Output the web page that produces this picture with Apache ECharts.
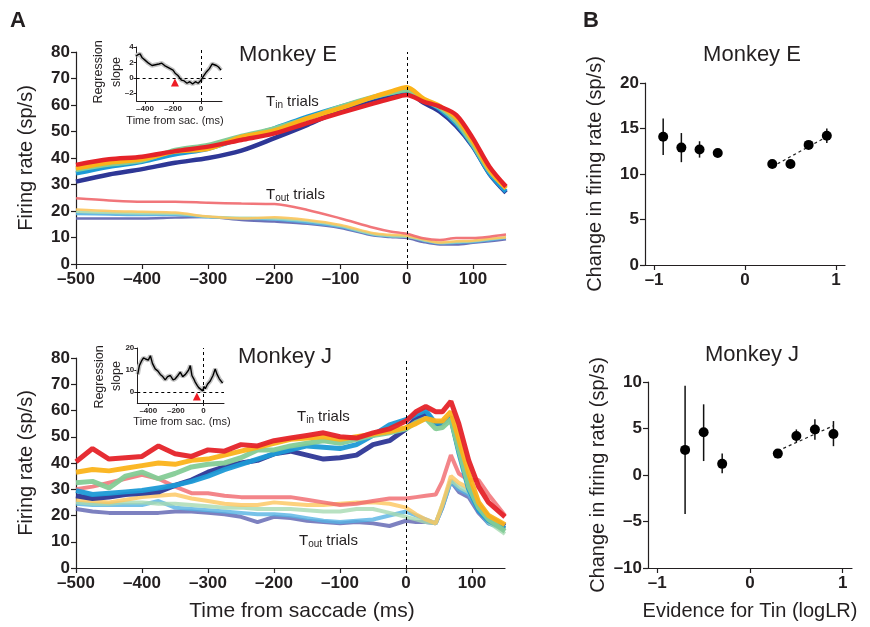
<!DOCTYPE html>
<html>
<head>
<meta charset="utf-8">
<script src="https://cdn.jsdelivr.net/npm/echarts@6/dist/echarts.min.js"></script>
<style>
  html, body { margin: 0; padding: 0; background: #fff; }
  #fig { width: 870px; height: 627px; }
</style>
</head>
<body>
<div id="fig"></div>
<script>
// ---- Monkey E, firing rate vs time (ms) ----
var tE = [-500, -450, -400, -350, -300, -250, -200, -150, -100, -50, -25, 0, 25, 50, 75, 100, 125, 150];
var eTinDarkBlue  = [31.1, 33.8, 35.8, 38.2, 40.0, 42.8, 47.5, 52.5, 58.0, 62.1, 63.5, 65.0, 60.9, 57.5, 52.0, 44.3, 34.0, 26.9];
var eTinLightBlue = [34.2, 36.7, 38.6, 41.4, 43.5, 47.4, 51.2, 55.6, 59.4, 62.9, 64.5, 65.4, 62.0, 58.4, 52.8, 44.5, 34.2, 27.3];
var eTinGreen     = [35.5, 37.5, 39.0, 43.0, 44.9, 48.3, 51.2, 55.0, 59.4, 63.1, 64.5, 65.7, 62.0, 59.0, 53.7, 45.0, 35.0, 28.7];
var eTinYellow    = [36.1, 38.2, 39.5, 42.4, 43.5, 48.0, 50.4, 55.0, 58.8, 63.1, 65.0, 66.7, 62.5, 59.6, 55.0, 46.2, 35.6, 28.5];
var eTinRed       = [37.4, 39.5, 40.5, 42.6, 44.3, 46.8, 49.3, 53.2, 57.0, 60.6, 62.3, 63.8, 61.3, 59.4, 56.2, 47.4, 36.7, 29.2];
var eToutDarkBlue  = [17.2, 17.2, 17.2, 17.5, 17.7, 16.6, 16.0, 15.2, 13.6, 10.7, 10.2, 9.8, 8.3, 7.4, 7.4, 8.0, 8.6, 9.3];
var eToutLightBlue = [18.9, 18.7, 18.5, 18.5, 17.6, 17.2, 16.8, 15.6, 14.0, 11.0, 10.4, 10.3, 8.8, 7.8, 8.0, 8.3, 9.0, 9.8];
var eToutGreen     = [19.7, 19.3, 19.1, 19.0, 17.8, 17.5, 17.2, 16.2, 14.3, 11.2, 10.6, 10.3, 9.0, 7.9, 8.3, 8.6, 9.3, 10.0];
var eToutYellow    = [20.6, 20.0, 19.7, 19.4, 17.9, 17.2, 17.6, 16.6, 14.7, 11.6, 11.0, 10.7, 9.3, 8.1, 8.6, 8.8, 9.5, 10.1];
var eToutRed       = [24.8, 24.0, 23.5, 23.5, 23.1, 22.8, 22.6, 20.4, 17.2, 13.7, 12.3, 11.4, 9.7, 9.1, 9.8, 9.8, 10.3, 11.1];

// ---- Monkey J, firing rate vs time (ms) ----
var tJ = [-500, -475, -450, -425, -400, -375, -350, -325, -300, -275, -250, -225, -200, -175, -150, -125, -100, -75, -50, -25, 0, 15, 30, 45, 55, 68, 80, 95, 110, 125, 150];
var jTinDarkBlue  = [27.5, 26.5, 27.0, 28.0, 28.5, 29.0, 31.5, 33.5, 36.5, 38.5, 40.0, 41.0, 43.5, 44.5, 43.0, 41.5, 42.0, 43.0, 47.0, 48.5, 53.0, 57.0, 59.0, 55.0, 55.0, 57.5, 45.0, 32.0, 24.0, 19.5, 16.0];
var jTinLightBlue = [29.5, 28.0, 28.5, 29.0, 29.5, 30.5, 31.5, 33.0, 35.0, 37.5, 39.5, 41.5, 43.5, 45.0, 46.5, 46.0, 45.5, 47.0, 50.5, 54.5, 56.5, 58.5, 60.0, 55.0, 55.5, 57.0, 44.0, 30.0, 22.0, 18.0, 15.0];
var jTinGreen     = [32.5, 33.0, 30.5, 35.0, 36.5, 34.0, 36.0, 38.5, 39.5, 40.0, 42.0, 45.0, 45.0, 46.5, 47.5, 48.5, 47.5, 49.0, 50.5, 51.5, 53.0, 55.5, 57.0, 53.0, 53.5, 56.5, 45.0, 31.0, 23.0, 18.5, 14.0];
var jTinYellow    = [36.5, 37.5, 37.0, 38.0, 39.0, 40.0, 39.5, 41.0, 41.5, 43.0, 44.5, 46.0, 47.5, 49.0, 49.5, 50.0, 49.0, 50.0, 51.0, 52.0, 53.5, 55.0, 57.0, 56.0, 56.0, 59.5, 49.0, 36.0, 25.0, 20.0, 16.5];
var jTinRed       = [40.5, 45.5, 41.5, 42.0, 42.5, 46.5, 43.5, 42.5, 45.0, 44.5, 47.0, 46.5, 48.5, 49.5, 50.5, 51.5, 50.0, 49.5, 51.5, 53.0, 56.0, 59.5, 61.5, 59.5, 59.5, 63.5, 55.0, 41.0, 31.0, 25.0, 19.5];
var jToutDarkBlue  = [22.5, 21.5, 21.0, 21.0, 21.0, 21.0, 21.5, 21.5, 21.0, 20.5, 19.5, 17.5, 19.5, 19.0, 18.0, 17.5, 17.0, 17.5, 17.0, 16.0, 18.0, 17.5, 17.5, 17.0, 23.0, 33.0, 29.0, 27.0, 21.0, 17.0, 15.0];
var jToutLightBlue = [24.5, 24.0, 24.0, 24.0, 24.0, 25.5, 23.0, 22.5, 22.0, 21.5, 21.0, 20.5, 20.5, 20.0, 19.0, 18.0, 17.5, 18.0, 18.5, 20.0, 21.5, 20.0, 18.5, 17.0, 23.0, 33.0, 30.0, 28.0, 22.0, 17.0, 14.5];
var jToutGreen     = [25.0, 24.5, 24.5, 25.0, 25.0, 24.5, 24.5, 24.0, 23.5, 23.0, 23.0, 22.5, 22.5, 22.5, 22.0, 21.5, 21.5, 22.5, 22.5, 21.0, 19.5, 18.5, 17.5, 17.0, 24.0, 33.5, 31.0, 29.0, 23.0, 17.5, 13.0];
var jToutYellow    = [26.0, 25.5, 25.0, 26.0, 27.0, 27.5, 28.0, 26.5, 25.5, 24.5, 24.0, 24.0, 25.0, 24.5, 24.0, 24.0, 24.5, 25.0, 25.0, 24.5, 23.0, 20.5, 18.5, 17.0, 24.0, 35.0, 32.5, 30.5, 24.0, 19.0, 15.0];
var jToutRed       = [30.0, 31.0, 32.5, 34.0, 35.5, 34.0, 31.0, 28.5, 28.5, 27.5, 27.0, 27.0, 27.0, 27.0, 26.0, 25.0, 24.0, 24.5, 25.5, 26.5, 26.5, 27.0, 27.5, 28.0, 33.0, 43.0, 36.0, 33.5, 33.5, 28.0, 20.0];

// ---- insets: regression slope vs time ----
var tInsetE = [-466, -450, -435, -420, -400, -375, -350, -325, -300, -280, -260, -240, -220, -200, -185, -165, -140, -120, -100, -80, -60, -40, -20, 0, 20, 40, 60, 80, 90, 110, 125, 143];
var slopeE  = [2.8, 3.0, 3.1, 2.6, 2.3, 1.9, 1.6, 1.7, 1.8, 1.9, 1.6, 1.4, 1.2, 1.0, 0.6, 0.3, -0.3, -0.4, -0.7, -0.5, -0.8, -0.5, -0.7, -0.3, 0.3, 0.8, 1.2, 1.8, 1.9, 1.6, 1.4, 1.0];
var markE   = [-186, -0.6];
var tInsetJ = [-477, -465, -450, -435, -420, -400, -385, -370, -350, -330, -313, -295, -277, -260, -240, -220, -204, -185, -168, -150, -130, -107, -95, -83, -70, -59, -45, -34, -20, -5, 5, 14, 30, 50, 70, 86, 100, 116, 140];
var slopeJ  = [8, 12, 14, 15.5, 15, 14.5, 16.5, 13, 10.5, 9.5, 8, 7, 5.5, 7, 7.5, 5.5, 6, 7.5, 9, 7, 8, 10, 12, 7.5, 6, 4.5, 3, 2, 1.5, 0.5, 2.5, 1.5, 3.5, 5, 7.5, 10.5, 8, 6, 4];
var markJ   = [-47, -2];

// ---- panel B: change in firing rate vs evidence ----
var bxE  = [-0.9, -0.7, -0.5, -0.3, 0.3, 0.5, 0.7, 0.9];
var byE  = [14.1, 12.9, 12.7, 12.3, 11.1, 11.1, 13.2, 14.2];
var bloE = [12.1, 11.3, 11.8, 12.0, 10.9, 10.9, 12.8, 13.4];
var bhiE = [16.1, 14.5, 13.6, 12.6, 11.3, 11.3, 13.6, 15.0];
var fitE = [[0.3, 10.8], [0.9, 14.1]];
var bxJ  = [-0.7, -0.5, -0.3, 0.3, 0.5, 0.7, 0.9];
var byJ  = [2.7, 4.6, 1.2, 2.3, 4.2, 4.9, 4.4];
var bloJ = [-4.2, 1.5, 0.2, 1.8, 3.5, 3.8, 3.1];
var bhiJ = [9.6, 7.6, 2.3, 2.8, 4.9, 6.0, 5.8];
var fitJ = [[0.3, 2.6], [0.9, 5.3]];

var FONT = 'Liberation Sans, Arial, Helvetica, sans-serif';
var INK = '#231f20';
var cTin  = ['#2e3796', '#1c9ad6', '#84cc96', '#fbb31a', '#e52329'];
var cTout = ['#5c62b0', '#55b3e3', '#a6d9b1', '#fcc55d', '#f0676b'];

var chartDom = document.getElementById('fig');
var fig = echarts.init(chartDom, null, { renderer: 'canvas' });

function dash(v) { return String(v).replace('-', '\u2013'); }

function xy(times, vals) { return times.map(function (t, i) { return [t, vals[i]]; }); }

function trace(idx, times, vals, color, width, opacity) {
  return {
    type: 'line', xAxisIndex: idx, yAxisIndex: idx, data: xy(times, vals),
    symbol: 'none', silent: true, smooth: idx === 0 ? 0.3 : false,
    lineStyle: { color: color, width: width, opacity: opacity }
  };
}

function valueAxis(grid, min, max, ticks, small, extra) {
  var ax = {
    type: 'value', gridIndex: grid, min: min, max: max, scale: true,
    splitLine: { show: false },
    axisLine: { show: true, onZero: false, lineStyle: { color: INK, width: small ? 1 : 1.2 } },
    axisTick: { show: true, inside: false, length: small ? 3 : 5, customValues: ticks, lineStyle: { color: INK, width: small ? 1 : 1.2 } },
    axisLabel: { customValues: ticks, formatter: dash, color: INK, fontFamily: FONT, fontWeight: 'bold',
                 fontSize: small ? 8 : 17, margin: small ? 3 : 6 }
  };
  for (var k in extra) ax[k] = extra[k];
  return ax;
}

var nameStyle = { color: INK, fontFamily: FONT, fontSize: 20 };

var grids = [
  { left: 76, top: 52, width: 430, height: 212 },
  { left: 76, top: 358, width: 429, height: 210 },
  { left: 645, top: 83, width: 200, height: 182 },
  { left: 648, top: 382, width: 204, height: 186 },
  { left: 136.6, top: 47, width: 85.4, height: 54 },
  { left: 137.3, top: 348, width: 86.7, height: 55 }
].map(function (g) { g.outerBoundsMode = 'none'; g.containLabel = false; return g; });

var tTicks = [-500, -400, -300, -200, -100, 0, 100];

var xAxes = [
  valueAxis(0, -500, 150, tTicks, false, {}),
  valueAxis(1, -500, 150, tTicks, false, {}),
  valueAxis(2, -1.1, 1.1, [-1, 0, 1], false, {}),
  valueAxis(3, -1.1, 1.1, [-1, 0, 1], false, {
    name: 'Evidence for Tin (logLR)', nameLocation: 'middle', nameGap: 33, nameTextStyle: nameStyle }),
  valueAxis(4, -460, 150, [-400, -200, 0], true, {}),
  valueAxis(5, -480, 150, [-400, -200, 0], true, {})
];
xAxes.forEach(function (a) { a.axisLabel.margin = a.axisLabel.fontSize === 8 ? 4 : 7; });

var frTicks = [0, 10, 20, 30, 40, 50, 60, 70, 80];
var yAxes = [
  valueAxis(0, 0, 80, frTicks, false, {
    name: 'Firing rate (sp/s)', nameLocation: 'middle', nameGap: 40, nameRotate: 90, nameTextStyle: nameStyle }),
  valueAxis(1, 0, 80, frTicks, false, {
    name: 'Firing rate (sp/s)', nameLocation: 'middle', nameGap: 40, nameRotate: 90, nameTextStyle: nameStyle }),
  valueAxis(2, 0, 20, [0, 5, 10, 15, 20], false, {
    name: 'Change in firing rate (sp/s)', nameLocation: 'middle', nameGap: 40, nameRotate: 90, nameTextStyle: nameStyle }),
  valueAxis(3, -10, 10, [-10, -5, 0, 5, 10], false, {
    name: 'Change in firing rate (sp/s)', nameLocation: 'middle', nameGap: 40, nameRotate: 90, nameTextStyle: nameStyle }),
  valueAxis(4, -3, 4, [-2, 0, 2, 4], true, {}),
  valueAxis(5, -5, 20, [0, 10, 20], true, {})
];

var vDash = { symbol: 'none', silent: true, label: { show: false },
              lineStyle: { color: '#000', width: 1, type: [3, 3] } };

var series = [];
var eTout = [eToutDarkBlue, eToutLightBlue, eToutGreen, eToutYellow, eToutRed];
var eTin = [eTinDarkBlue, eTinLightBlue, eTinGreen, eTinYellow, eTinRed];
var jTout = [jToutDarkBlue, jToutLightBlue, jToutGreen, jToutYellow, jToutRed];
var jTin = [jTinDarkBlue, jTinLightBlue, jTinGreen, jTinYellow, jTinRed];
var order = [0, 1, 2, 3, 4];
order.forEach(function (c) { series.push(trace(0, tE, eTout[c], cTout[c], 2.5, 0.9)); });
order.forEach(function (c) { series.push(trace(0, tE, eTin[c], cTin[c], 4.5, 1)); });
order.forEach(function (c) { series.push(trace(1, tJ, jTout[c], cTout[c], 4, 0.8)); });
order.forEach(function (c) { series.push(trace(1, tJ, jTin[c], cTin[c], 5, 0.95)); });

// dashed saccade-onset lines
[0, 1].forEach(function (i) {
  series.push({ type: 'line', xAxisIndex: i, yAxisIndex: i, data: [], silent: true,
    markLine: Object.assign({ data: [{ xAxis: 0 }] }, vDash) });
});

// insets
[[4, tInsetE, slopeE, markE], [5, tInsetJ, slopeJ, markJ]].forEach(function (s) {
  var i = s[0];
  series.push({ type: 'line', xAxisIndex: i, yAxisIndex: i, data: xy(s[1], s[2]), symbol: 'none', silent: true,
    lineStyle: { color: '#c4c4c4', width: 4.5 },
    markLine: Object.assign({ data: [{ xAxis: 0 }, { yAxis: 0 }] }, vDash) });
  series.push({ type: 'line', xAxisIndex: i, yAxisIndex: i, data: xy(s[1], s[2]), symbol: 'none', silent: true,
    lineStyle: { color: '#000', width: 1.4 } });
  series.push({ type: 'scatter', xAxisIndex: i, yAxisIndex: i, data: [s[3]], symbol: 'triangle', symbolSize: 8,
    silent: true, itemStyle: { color: '#ee1c25', opacity: 1 } });
});

// panel B: error bars, points, fits
function errorBars(i, xs, lo, hi) {
  return {
    type: 'custom', xAxisIndex: i, yAxisIndex: i, silent: true,
    data: xs.map(function (x, k) { return [x, lo[k], hi[k]]; }),
    encode: { x: 0, y: [1, 2] },
    renderItem: function (params, api) {
      var p1 = api.coord([api.value(0), api.value(1)]);
      var p2 = api.coord([api.value(0), api.value(2)]);
      return { type: 'line', shape: { x1: p1[0], y1: p1[1], x2: p2[0], y2: p2[1] },
               style: { stroke: '#111', lineWidth: 1.5 } };
    }
  };
}
[[2, bxE, byE, bloE, bhiE, fitE], [3, bxJ, byJ, bloJ, bhiJ, fitJ]].forEach(function (s) {
  var i = s[0];
  series.push({ type: 'line', xAxisIndex: i, yAxisIndex: i, data: s[5], symbol: 'none', silent: true,
    lineStyle: { color: '#222', width: 1.2, type: [3, 3] } });
  series.push(errorBars(i, s[1], s[3], s[4]));
  series.push({ type: 'scatter', xAxisIndex: i, yAxisIndex: i, data: xy(s[1], s[2]), symbol: 'circle',
    symbolSize: 10, silent: true, itemStyle: { color: '#000', opacity: 1 }, z: 5 });
});

function txt(x, y, text, font, align, valign, rot, rich) {
  var el = { type: 'text', x: x, y: y, silent: true,
    style: { text: text, font: font, fill: INK, align: align, textAlign: align,
             verticalAlign: valign, textVerticalAlign: valign } };
  if (rot) el.rotation = rot;
  if (rich) el.style.rich = rich;
  return el;
}
var trialRich = {
  big: { font: '15px ' + FONT, fill: INK, verticalAlign: 'bottom' },
  sub: { font: '10px ' + FONT, fill: INK, verticalAlign: 'bottom', padding: [0, 0, -1, 0] }
};
var R = Math.PI / 2;

var graphics = [
  txt(10, 21, 'A', 'bold 22px ' + FONT, 'left', 'middle'),
  txt(583, 21, 'B', 'bold 22px ' + FONT, 'left', 'middle'),
  txt(288, 55, 'Monkey E', '22px ' + FONT, 'center', 'middle'),
  txt(752, 55, 'Monkey E', '22px ' + FONT, 'center', 'middle'),
  txt(285, 357, 'Monkey J', '22px ' + FONT, 'center', 'middle'),
  txt(752, 355, 'Monkey J', '22px ' + FONT, 'center', 'middle'),
  txt(266, 102, '{big|T}{sub|in}{big| trials}', '15px ' + FONT, 'left', 'middle', 0, trialRich),
  txt(266, 195, '{big|T}{sub|out}{big| trials}', '15px ' + FONT, 'left', 'middle', 0, trialRich),
  txt(297, 417, '{big|T}{sub|in}{big| trials}', '15px ' + FONT, 'left', 'middle', 0, trialRich),
  txt(299, 541, '{big|T}{sub|out}{big| trials}', '15px ' + FONT, 'left', 'middle', 0, trialRich),
  txt(302, 611, 'Time from saccade (ms)', '21px ' + FONT, 'center', 'middle'),
  txt(175, 121, 'Time from sac. (ms)', '11px ' + FONT, 'center', 'middle'),
  txt(182, 422, 'Time from sac. (ms)', '11px ' + FONT, 'center', 'middle'),
  txt(99, 72, 'Regression', '12.5px ' + FONT, 'center', 'middle', R),
  txt(117, 72, 'slope', '12.5px ' + FONT, 'center', 'middle', R),
  txt(100, 377, 'Regression', '12.5px ' + FONT, 'center', 'middle', R),
  txt(117, 376, 'slope', '12.5px ' + FONT, 'center', 'middle', R)
];

var option = {
  animation: false,
  backgroundColor: '#fff',
  grid: grids,
  xAxis: xAxes,
  yAxis: yAxes,
  series: series,
  graphic: graphics
};

fig.setOption(option);

window.addEventListener('resize', function () {
  fig.resize();
});
</script>
</body>
</html>
